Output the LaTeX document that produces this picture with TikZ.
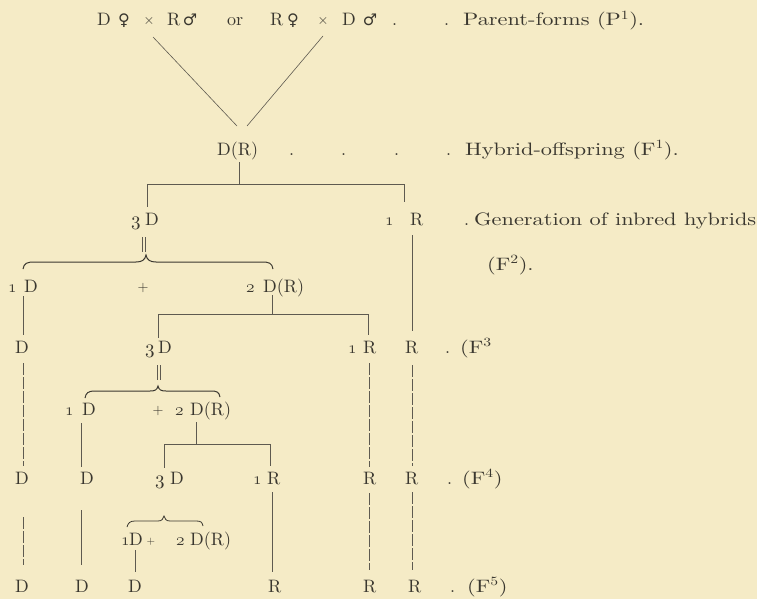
\documentclass[tikz,border=0pt]{standalone}
\usepackage{fontspec}
\newfontfamily\lab{lmroman10-regular.otf}[FakeStretch=1.24]
\newfontfamily\tfont{lmroman10-regular.otf}
\newfontfamily\symf{DejaVu Sans}
\newcommand\ofig[1]{{\fontsize{18}{20}\usefont{OML}{lmm}{m}{it}#1}}
\newcommand\thr{\raisebox{-4pt}{\fontsize{19}{21}\selectfont 3}}
\definecolor{bgc}{HTML}{F5EBC6}
\definecolor{ink}{HTML}{3A372F}
\definecolor{linec}{HTML}{5E5A50}
\begin{document}
\begin{tikzpicture}[x=1pt,y=-1pt,
  tx/.style={inner sep=0pt, anchor=base west, font=\fontsize{18}{20}\selectfont\tfont, text=ink},
  tc/.style={tx, anchor=base},
  pls/.style={tc, font=\fontsize{14}{16}\selectfont\tfont},
  lb/.style={tx, font=\fontsize{18}{20}\selectfont\lab},
  sy/.style={inner sep=0pt, anchor=base, font=\fontsize{16}{18}\selectfont\symf, text=ink},
  ln/.style={draw=linec, line width=0.6pt},
  thru/.style={ln, dash pattern=on 12pt off 2pt},
  dbl/.style={draw=linec, line width=0.6pt, double=bgc, double distance=2.4pt},
  brc/.style={draw=ink, line width=1pt}]
\fill[bgc] (0,0) rectangle (757,599);
\useasboundingbox (0,0) rectangle (757,599);

% ---- row 1: parent forms
\node[tx] (a1) at (97,26) {D};
\node[sy] (a2) at (124,26) {♀};
\node[pls] (a3) at (149,25) {×};
\node[tx] (a4) at (167,26) {R};
\node[sy] (a5) at (190,26) {♂};
\node[tx] (or) at (227,26) {or};
\node[tx] (b1) at (270,26) {R};
\node[sy] (b2) at (293,26) {♀};
\node[pls] (b3) at (323,25) {×};
\node[tx] (b4) at (342,26) {D};
\node[sy] (b5) at (370,26) {♂};
\node[tx] (d11) at (392,26) {.};
\node[tx] (d12) at (444,26) {.};
\node[lb] (L1) at (463,26) {Parent-forms (P\textsuperscript{1}).};

\path (153,37) coordinate (x1) (237,126) coordinate (x2)
      (323,36) coordinate (x3) (247,126) coordinate (x4);
\draw[ln] (x1) -- (x2);
\draw[ln] (x3) -- (x4);

% ---- row 2: F1
\node[tx] (f1) at (217,155) {D(R)};
\node[tx] (d21) at (289,155) {.};
\node[tx] (d22) at (341,155) {.};
\node[tx] (d23) at (394,155) {.};
\node[tx] (d24) at (446,155) {.};
\node[lb] (L2) at (465,155) {Hybrid-offspring (F\textsuperscript{1}).};

\path (239,162) coordinate (j1) (239,184) coordinate (j2)
      (147,184) coordinate (h1a) (404,184) coordinate (h1b)
      (147,207) coordinate (k1) (404,202) coordinate (k2);
\draw[ln] (j1) -- (j2);
\draw[ln] (h1a) -- (h1b);
\draw[ln] (h1a) -- (k1);
\draw[ln] (h1b) -- (k2);

% ---- row 3: F2
\node[tx] (c3) at (131,225) {\thr};
\node[tx] (g2D) at (145,225) {D};
\node[tx] (c1) at (385,225) {\ofig{1}};
\node[tx] (g2R) at (410,225) {R};
\node[tx] (d31) at (464,225) {.};
\node[lb] (L3) at (474,225) {Generation of inbred hybrids};
\node[lb] (L3b) at (487,270) {(F\textsuperscript{2}).};

\path (144,237) coordinate (m1) (144,252) coordinate (m2);
\draw[dbl] (m1) -- (m2);
\draw[brc] (23,269) .. controls (24,263) and (27,262) .. (35,262) -- (136,262)
  .. controls (142,262) and (145,260) .. (146,255)
  .. controls (147,260) and (150,262) .. (156,262) -- (262,262)
  .. controls (269,262) and (272,263) .. (273,269);
\path (412,235) coordinate (q1) (412,331) coordinate (q2);
\draw[ln] (q1) -- (q2);

% ---- row 4
\node[tx] (c4a) at (8,292) {\ofig{1}};
\node[tx] (g3D) at (24,292) {D};
\node[pls] (pl1) at (143,291) {+};
\node[tx] (c4b) at (246,292) {\ofig{2}};
\node[tx] (g3DR) at (263,292) {D(R)};

\path (23,296) coordinate (s1) (23,335) coordinate (s2)
      (272,295) coordinate (t1) (272,314) coordinate (t2)
      (158,314) coordinate (h2a) (368,314) coordinate (h2b)
      (158,338) coordinate (u1) (368,335) coordinate (u2);
\draw[ln] (s1) -- (s2);
\draw[ln] (t1) -- (t2);
\draw[ln] (h2a) -- (h2b);
\draw[ln] (h2a) -- (u1);
\draw[ln] (h2b) -- (u2);

% ---- row 5: F3
\node[tx] (r5a) at (15,353) {D};
\node[tx] (c5a) at (145,353) {\thr};
\node[tx] (r5b) at (158,353) {D};
\node[tx] (c5b) at (348,353) {\ofig{1}};
\node[tx] (r5c) at (363,353) {R};
\node[tx] (r5d) at (405,353) {R};
\node[tx] (d51) at (445,353) {.};
\node[lb] (L5) at (460,353) {(F\textsuperscript{3}};

\path (159,365) coordinate (m3) (159,380) coordinate (m4);
\draw[dbl] (m3) -- (m4);
\draw[brc] (85,398) .. controls (86,393) and (88,391) .. (95,391) -- (150,391)
  .. controls (155,391) and (157,390) .. (158,386)
  .. controls (159,390) and (161,391) .. (166,391) -- (211,391)
  .. controls (217,391) and (219,392) .. (220,397);
\path (23,363) coordinate (v1a) (23,466) coordinate (v1b)
      (369,363) coordinate (v2a) (369,467) coordinate (v2b)
      (412,365) coordinate (v3a) (412,466) coordinate (v3b);
\draw[thru] (v1a) -- (v1b);
\draw[thru] (v2a) -- (v2b);
\draw[thru] (v3a) -- (v3b);

% ---- row 6
\node[tx] (c6a) at (65,415) {\ofig{1}};
\node[tx] (r6a) at (82,415) {D};
\node[pls] (pl2) at (158,414) {+};
\node[tx] (c6b) at (175,415) {\ofig{2}};
\node[tx] (r6b) at (190,415) {D(R)};

\path (81,423) coordinate (w1) (81,467) coordinate (w2)
      (196,422) coordinate (y1) (196,444) coordinate (y2)
      (164,444) coordinate (h3a) (270,444) coordinate (h3b)
      (164,468) coordinate (z1) (270,466) coordinate (z2);
\draw[ln] (w1) -- (w2);
\draw[ln] (y1) -- (y2);
\draw[ln] (h3a) -- (h3b);
\draw[ln] (h3a) -- (z1);
\draw[ln] (h3b) -- (z2);

% ---- row 7: F4
\node[tx] (r7a) at (15,484) {D};
\node[tx] (r7b) at (80,484) {D};
\node[tx] (c7a) at (155,484) {\thr};
\node[tx] (r7c) at (170,484) {D};
\node[tx] (c7b) at (253,484) {\ofig{1}};
\node[tx] (r7d) at (267,484) {R};
\node[tx] (r7e) at (363,484) {R};
\node[tx] (r7f) at (405,484) {R};
\node[tx] (d71) at (447,484) {.};
\node[lb] (L7) at (462,484) {(F\textsuperscript{4})};

\draw[draw=ink, line width=0.8pt] (127,527) .. controls (128,523) and (130,521) .. (135,521) -- (158,521)
  .. controls (162,521) and (163,519) .. (164,516)
  .. controls (165,519) and (166,521) .. (170,521) -- (196,521)
  .. controls (201,521) and (202,522) .. (203,526);
\path (23,517) coordinate (n1a) (23,565) coordinate (n1b)
      (81,510) coordinate (n2a) (81,565) coordinate (n2b)
      (272,492) coordinate (n3a) (272,572) coordinate (n3b)
      (369,493) coordinate (n4a) (369,570) coordinate (n4b)
      (412,492) coordinate (n5a) (412,570) coordinate (n5b);
\draw[thru] (n1a) -- (n1b);
\draw[ln] (n2a) -- (n2b);
\draw[ln] (n3a) -- (n3b);
\draw[thru] (n4a) -- (n4b);
\draw[thru] (n5a) -- (n5b);

% ---- row 8
\node[tx] (c8a) at (121,545) {\ofig{1}};
\node[tx] (r8a) at (129,545) {D};
\node[pls, font=\fontsize{11}{13}\selectfont\tfont] (pl3) at (151,544) {+};
\node[tx] (c8b) at (176,545) {\ofig{2}};
\node[tx] (r8b) at (190,545) {D(R)};
\path (135,550) coordinate (o1) (135,572) coordinate (o2);
\draw[ln] (o1) -- (o2);

% ---- row 9: F5
\node[tx] (r9a) at (15,592) {D};
\node[tx] (r9b) at (75,592) {D};
\node[tx] (r9c) at (128,592) {D};
\node[tx] (r9d) at (268,592) {R};
\node[tx] (r9e) at (363,592) {R};
\node[tx] (r9f) at (408,592) {R};
\node[tx] (d91) at (450,592) {.};
\node[lb] (L9) at (467,592) {(F\textsuperscript{5})};
\end{tikzpicture}
\end{document}
